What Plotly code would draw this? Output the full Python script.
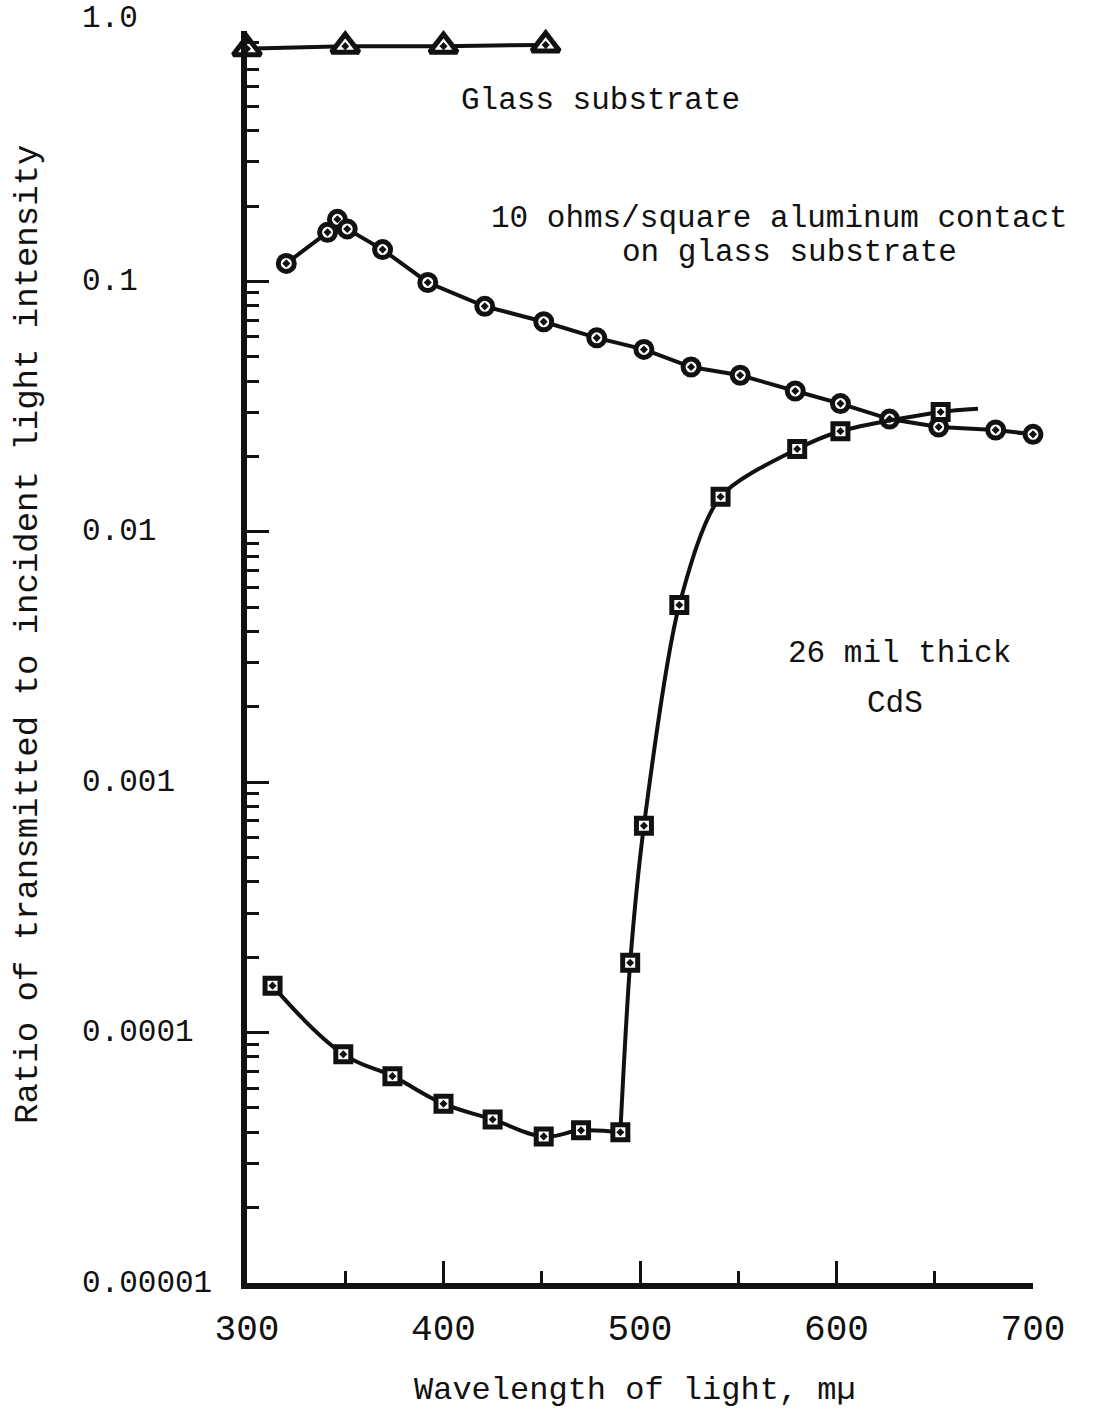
import math
import plotly.graph_objects as go

# Transmission measurements (wavelength in mµ, ratio of transmitted/incident intensity)
glass_wl = [300, 350, 400, 452]
glass_ratio = [0.85, 0.87, 0.87, 0.88]

al_wl = [320, 341, 346, 351, 369, 392, 421, 451, 478, 502, 526, 551, 579, 602,
         627, 652, 681, 700]
al_ratio = [0.118, 0.157, 0.177, 0.162, 0.134, 0.099, 0.0795, 0.0690, 0.0595,
            0.0535, 0.0455, 0.0422, 0.0365, 0.0325, 0.0282, 0.0262, 0.0255, 0.0245]

cds_wl = [313, 349, 374, 400, 425, 451, 470, 490, 495, 502, 520, 541, 580, 602, 653]
cds_ratio = [1.54e-4, 8.2e-5, 6.7e-5, 5.2e-5, 4.5e-5, 3.85e-5, 4.07e-5, 4.0e-5,
             1.9e-4, 6.7e-4, 5.1e-3, 0.0138, 0.0214, 0.0252, 0.0301]
# the fitted CdS curve runs a little past the last measured point
cds_curve_end_wl = 672
cds_curve_end_ratio = 0.031

x_ticks = [300, 400, 500, 600, 700]
x_minor = [350, 450, 550, 650]
y_ticks = [1e-5, 1e-4, 1e-3, 1e-2, 1e-1, 1.0]
y_tick_text = ["0.00001", "0.0001", "0.001", "0.01", "0.1", "1.0"]
y_minor = [k * 10.0 ** d for d in range(-5, 0) for k in range(2, 10)]

INK = "#111111"
MONO = "Liberation Mono"

fig = go.Figure()

# Glass substrate
fig.add_trace(go.Scatter(
    x=glass_wl, y=glass_ratio, mode="lines+markers", cliponaxis=False,
    line=dict(color=INK, width=4),
    marker=dict(symbol="triangle-up-dot", size=24, color="white",
                line=dict(color=INK, width=5)),
))

# Aluminum contact on glass
fig.add_trace(go.Scatter(
    x=al_wl, y=al_ratio, mode="lines+markers", cliponaxis=False,
    line=dict(color=INK, width=4),
    marker=dict(symbol="circle-dot", size=16, color="white",
                line=dict(color=INK, width=5)),
))

# CdS: smooth curve in two pieces (sharp absorption edge near 490 mµ)
edge = cds_wl.index(490)
fig.add_trace(go.Scatter(
    x=cds_wl[:edge + 1], y=cds_ratio[:edge + 1], mode="lines",
    line=dict(color=INK, width=4, shape="spline", smoothing=1.2),
))
fig.add_trace(go.Scatter(
    x=cds_wl[edge:] + [cds_curve_end_wl], y=cds_ratio[edge:] + [cds_curve_end_ratio],
    mode="lines",
    line=dict(color=INK, width=4, shape="spline", smoothing=0.8),
))
fig.add_trace(go.Scatter(
    x=cds_wl, y=cds_ratio, mode="markers", cliponaxis=False,
    marker=dict(symbol="square-dot", size=15, color="white",
                line=dict(color=INK, width=5)),
))

annotations = []
# left-aligned y tick labels
for v, t in zip(y_ticks, y_tick_text):
    annotations.append(dict(
        x=-0.2125, xref="paper", y=math.log10(v), yref="y",
        text=t, showarrow=False, xanchor="left", yanchor="middle",
        yshift=13 if v == 1.0 else 0,
        font=dict(family=MONO, size=31, color=INK),
    ))

# curve labels
labels = [
    ("Glass substrate", 480, 0.53),
    ("10 ohms/square aluminum contact", 571, 0.179),
    ("on glass substrate", 576, 0.131),
    ("26 mil thick", 632, 0.00328),
    ("CdS", 630, 0.00207),
]
for text, x, y in labels:
    annotations.append(dict(
        x=x, y=math.log10(y), xref="x", yref="y", text=text, showarrow=False,
        xanchor="center", yanchor="middle",
        font=dict(family=MONO, size=31, color=INK),
    ))

# axis titles
annotations.append(dict(
    x=-0.2786, xref="paper", y=0.5176, yref="paper", textangle=-90,
    text="Ratio of transmitted to incident light intensity", showarrow=False,
    xanchor="center", yanchor="middle",
    font=dict(family=MONO, size=34, color=INK),
))
annotations.append(dict(
    x=0.4936, xref="paper", y=-0.0855, yref="paper",
    text="Wavelength of light, mµ", showarrow=False,
    xanchor="center", yanchor="middle",
    font=dict(family=MONO, size=32, color=INK),
))

fig.update_layout(
    width=1096, height=1412,
    margin=dict(l=247, r=63, t=31, b=129),
    paper_bgcolor="white", plot_bgcolor="white",
    showlegend=False,
    annotations=annotations,
    xaxis=dict(
        range=[300, 700], showgrid=False, zeroline=False,
        showline=True, linecolor=INK, linewidth=6,
        ticks="inside", tickvals=x_ticks, ticklen=22, tickwidth=3, tickcolor=INK,
        minor=dict(ticks="inside", tickvals=x_minor, ticklen=12, tickwidth=3,
                   tickcolor=INK, showgrid=False),
        tickfont=dict(family=MONO, size=36, color=INK),
        ticklabelstandoff=8,
    ),
    yaxis=dict(
        type="log", range=[-5, 0], showgrid=False, zeroline=False,
        showline=True, linecolor=INK, linewidth=6,
        ticks="inside", tickvals=y_ticks, ticklen=22, tickwidth=3, tickcolor=INK,
        minor=dict(ticks="inside", tickvals=y_minor, ticklen=12, tickwidth=3,
                   tickcolor=INK, showgrid=False),
        showticklabels=False,
    ),
)

fig.write_html("out.html")
